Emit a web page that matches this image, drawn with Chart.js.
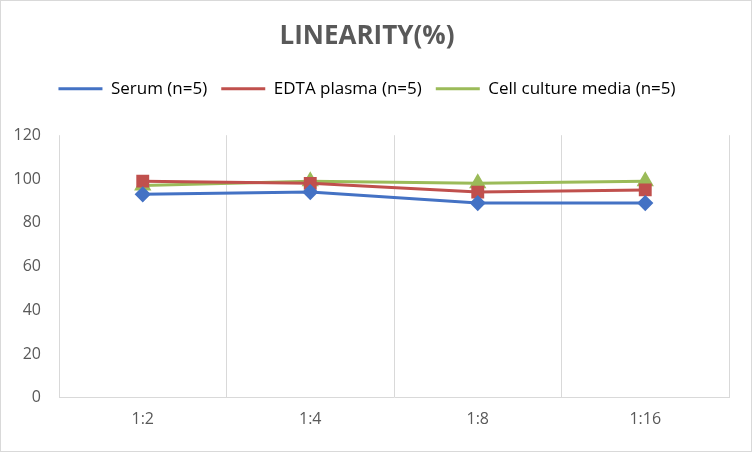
<!DOCTYPE html>
<html><head><script src="https://cdn.jsdelivr.net/npm/chart.js"></script>
<style>body{margin:0;background:#fff}#w{border:1px solid #d9d9d9;box-sizing:border-box;width:752px;height:452px}</style></head>
<body><div id="w"><canvas id="c"></canvas></div>
<script>
const categories=["1:2","1:4","1:8","1:16"];
const serum=[93,94,89,89];
const edta=[99,98,94,95];
const cell=[97,99,98,99];
const yTicks=[0,20,40,60,80,100,120];
new Chart(document.getElementById('c'),{type:'line',
data:{labels:categories,datasets:[
{label:'Serum (n=5)',data:serum,borderColor:'#4472c4',backgroundColor:'#4472c4',pointStyle:'rectRot',pointRadius:6,borderWidth:3},
{label:'EDTA plasma (n=5)',data:edta,borderColor:'#c0504d',backgroundColor:'#c0504d',pointStyle:'rect',pointRadius:7,borderWidth:3},
{label:'Cell culture media (n=5)',data:cell,borderColor:'#9bbb59',backgroundColor:'#9bbb59',pointStyle:'triangle',pointRadius:7,borderWidth:3}]},
options:{responsive:true,maintainAspectRatio:false,animation:false,
layout:{padding:{left:4,right:22,top:14,bottom:10}},
plugins:{title:{display:true,text:'LINEARITY(%)',color:'#595959',font:{family:'Open Sans',size:26,weight:'bold'},padding:{top:6,bottom:14}},
legend:{labels:{boxWidth:44,boxHeight:3,color:'#404040',padding:14,font:{family:'Open Sans',size:17},
generateLabels(ch){return ch.data.datasets.map((d,i)=>({text:d.label,fillStyle:d.borderColor,strokeStyle:d.borderColor,lineWidth:0,datasetIndex:i}))}}}},
scales:{x:{offset:true,grid:{offset:true,color:'#d9d9d9',drawTicks:false},border:{color:'#d9d9d9'},ticks:{color:'#595959',font:{family:'Open Sans',size:16},padding:12}},
y:{min:0,max:120,afterFit(a){a.width=54},afterBuildTicks(a){a.ticks=yTicks.map(v=>({value:v}))},grid:{display:false},border:{display:false},ticks:{color:'#595959',font:{family:'Open Sans',size:16},padding:10}}}},
plugins:[{id:'gap',beforeInit(ch){const f=ch.legend.fit;ch.legend.fit=function(){f.call(this);this.height+=28;};}}]});
</script></body></html>
